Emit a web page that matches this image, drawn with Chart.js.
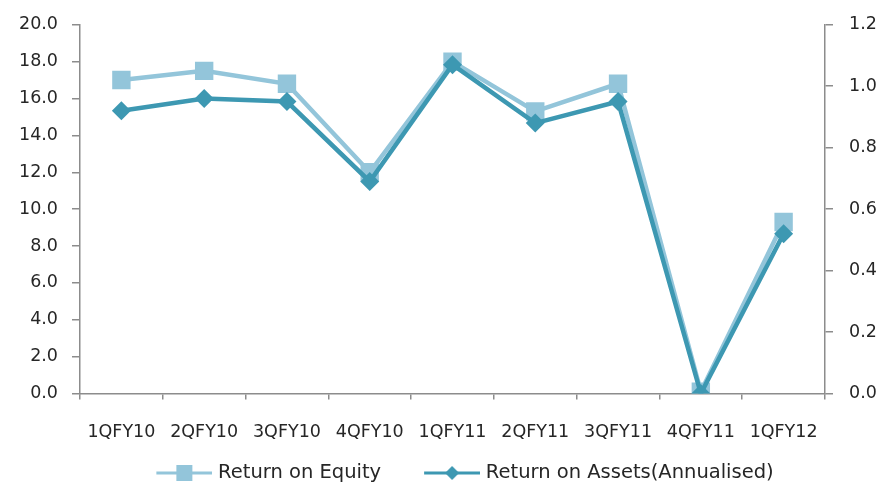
<!DOCTYPE html>
<html>
<head>
<meta charset="utf-8">
<script src="https://cdn.jsdelivr.net/npm/chart.js@4.4.1/dist/chart.umd.min.js"></script>
<style>
  html, body { margin: 0; padding: 0; background: #ffffff; }
  #wrap { width: 895px; height: 486px; }
</style>
</head>
<body>
<div id="wrap"><canvas id="c" width="895" height="486"></canvas></div>
<script>
// Quarterly return ratios
const quarters = ['1QFY10', '2QFY10', '3QFY10', '4QFY10', '1QFY11', '2QFY11', '3QFY11', '4QFY11', '1QFY12'];
const returnOnEquity = [17.0, 17.5, 16.8, 12.0, 18.0, 15.3, 16.8, 0.1, 9.3];          // left axis, %
const returnOnAssets = [0.92, 0.96, 0.95, 0.69, 1.07, 0.88, 0.95, 0.0, 0.52];          // right axis, %
const seriesNames = ['Return on Equity', 'Return on Assets(Annualised)'];

const LIGHT = '#93c5da';
const DARK = '#3d98b2';
const AXIS = '#8c8c8c';
const TEXT = '#262626';
const TICK_FONT = { family: 'DejaVu Sans', size: 17.5 };
const VALUE_FONT = { family: 'DejaVu Sans', size: 17.5, lineHeight: 1 };
const LEGEND_FONT = { family: 'DejaVu Sans', size: 19.5 };

// Legend swatch: a short line with the series marker in its middle,
// right-aligned inside a wider transparent image so it sits near the text
const SWATCH_BOX = 87;
function swatch(color, marker) {
  const w = SWATCH_BOX + 8, h = 22, lineLen = 56;
  const x0 = w - lineLen, mid = x0 + lineLen / 2;
  const cv = document.createElement('canvas');
  cv.width = w; cv.height = h;
  const g = cv.getContext('2d');
  g.strokeStyle = color;
  g.lineWidth = 3;
  g.beginPath(); g.moveTo(x0, h / 2); g.lineTo(w, h / 2); g.stroke();
  g.fillStyle = color;
  g.beginPath();
  if (marker === 'square') {
    g.rect(mid - 8, h / 2 - 8, 16, 16);
  } else {
    g.moveTo(mid - 7, h / 2); g.lineTo(mid, h / 2 - 7);
    g.lineTo(mid + 7, h / 2); g.lineTo(mid, h / 2 + 7); g.closePath();
  }
  g.fill();
  return cv;
}
const swatches = [swatch(LIGHT, 'square'), swatch(DARK, 'diamond')];

// Puts the legend row at a fixed height near the bottom edge
const legendRow = {
  id: 'legendRow',
  afterLayout(chart) {
    const lg = chart.legend;
    if (!lg) return;
    const pad = lg.options.labels.padding;
    const dy = 473 - (lg.top + pad + LEGEND_FONT.size / 2);
    lg.top += dy;
    lg.bottom += dy;
  }
};

new Chart(document.getElementById('c'), {
  type: 'line',
  plugins: [legendRow],
  data: {
    labels: quarters,
    datasets: [
      {
        label: seriesNames[0],
        data: returnOnEquity,
        yAxisID: 'y',
        order: 2,
        borderColor: LIGHT,
        backgroundColor: LIGHT,
        borderWidth: 4.5,
        tension: 0,
        pointStyle: 'rect',
        pointRadius: 13,
        pointHoverRadius: 13,
        pointBorderWidth: 0,
        pointBackgroundColor: LIGHT
      },
      {
        label: seriesNames[1],
        data: returnOnAssets,
        yAxisID: 'y1',
        order: 1,
        borderColor: DARK,
        backgroundColor: DARK,
        borderWidth: 4.5,
        tension: 0,
        pointStyle: 'rectRot',
        pointRadius: 9.5,
        pointHoverRadius: 9.5,
        pointBorderWidth: 0,
        pointBackgroundColor: DARK
      }
    ]
  },
  options: {
    responsive: false,
    animation: false,
    layout: { padding: { top: 24, bottom: 0, left: 0, right: 0 } },
    plugins: {
      tooltip: { enabled: false },
      legend: {
        position: 'bottom',
        labels: {
          usePointStyle: true,
          pointStyleWidth: SWATCH_BOX,
          padding: 8,
          color: TEXT,
          font: LEGEND_FONT,
          generateLabels: () => seriesNames.map((name, i) => ({
            text: name,
            pointStyle: swatches[i],
            fillStyle: 'transparent',
            strokeStyle: 'transparent',
            lineWidth: 0,
            fontColor: TEXT,
            datasetIndex: i,
            hidden: false
          }))
        }
      }
    },
    scales: {
      x: {
        type: 'category',
        offset: true,
        afterFit: (s) => { s.height = 55; },
        grid: { offset: true, drawOnChartArea: false, drawTicks: true, tickLength: 6, color: AXIS, lineWidth: 1.5 },
        border: { color: AXIS, width: 1.5 },
        ticks: { color: TEXT, font: TICK_FONT, padding: 22, maxRotation: 0, autoSkip: false }
      },
      y: {
        position: 'left',
        min: 0,
        max: 20,
        afterFit: (s) => { s.width = 80; },
        grid: { drawOnChartArea: false, tickLength: 8, color: AXIS, lineWidth: 1.5 },
        border: { color: AXIS, width: 1.5 },
        ticks: { stepSize: 2, color: TEXT, font: VALUE_FONT, padding: 14, callback: (v) => Number(v).toFixed(1) }
      },
      y1: {
        position: 'right',
        min: 0,
        max: 1.2,
        afterFit: (s) => { s.width = 70; },
        grid: { drawOnChartArea: false, tickLength: 8, color: AXIS, lineWidth: 1.5 },
        border: { color: AXIS, width: 1.5 },
        ticks: { stepSize: 0.2, color: TEXT, font: VALUE_FONT, padding: 16, callback: (v) => Number(v).toFixed(1) }
      }
    }
  }
});
</script>
</body>
</html>
